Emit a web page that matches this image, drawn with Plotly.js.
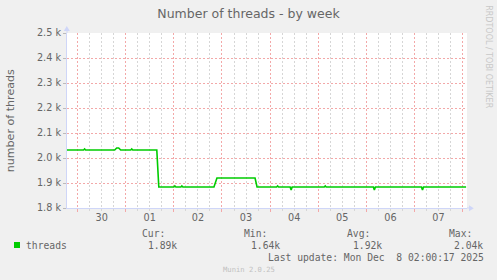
<!DOCTYPE html>
<html><head><meta charset="utf-8">
<script src="https://cdn.plot.ly/plotly-3.0.1.min.js"></script>
<style>html,body{margin:0;padding:0;background:#f0f0f0;}#chart{width:497px;height:280px;}</style>
</head><body><div id="chart"></div>
<script>
// ---- data ----
const times = [
  '2025-11-29 18:00','2025-11-30 03:00','2025-11-30 03:30','2025-11-30 04:00',
  '2025-11-30 18:30','2025-11-30 19:30','2025-11-30 20:30','2025-11-30 21:30',
  '2025-12-01 02:30','2025-12-01 03:00','2025-12-01 03:30','2025-12-01 15:30',
  '2025-12-01 16:30','2025-12-02 00:00','2025-12-02 00:30','2025-12-02 01:00',
  '2025-12-02 03:30','2025-12-02 04:00','2025-12-02 04:30','2025-12-02 20:00',
  '2025-12-02 21:30','2025-12-03 16:30','2025-12-03 17:30','2025-12-04 03:15',
  '2025-12-04 03:45','2025-12-04 04:15','2025-12-04 10:00','2025-12-04 10:30',
  '2025-12-04 11:00','2025-12-05 03:00','2025-12-05 03:30','2025-12-05 04:00',
  '2025-12-06 03:30','2025-12-06 04:00','2025-12-06 04:30','2025-12-07 03:30',
  '2025-12-07 04:00','2025-12-07 04:30','2025-12-08 01:45'
];
const threads = [
  2032,2032,2036,2032,
  2032,2040,2040,2032,
  2032,2036,2032,2032,
  1884,1884,1888,1884,
  1884,1888,1884,1884,
  1920,1920,1884,1884,
  1888,1884,1884,1872,
  1884,1884,1888,1884,
  1884,1872,1884,1884,
  1872,1884,1884
];
const xRange = ['2025-11-29 18:43','2025-12-08 02:12'];
const yTickVals = [1800,1900,2000,2100,2200,2300,2400,2500];
const yTickText = ['1.8 k','1.9 k','2.0 k','2.1 k','2.2 k','2.3 k','2.4 k','2.5 k'];
const seriesName = 'threads';
const statLabels = ['Cur:','Min:','Avg:','Max:'];
const statValues = ['1.89k','1.64k','1.92k','2.04k'];
const lastUpdate = 'Last update: Mon Dec  8 02:00:17 2025';
const chartTitle = 'Number of threads - by week';
const yTitle = 'number of threads';
const watermarkSide = 'RRDTOOL / TOBI OETIKER';
const watermarkBottom = 'Munin 2.0.25';

// ---- layout helpers ----
const L = 67, T = 33, W = 400, H = 175;
const px = x => (x - L) / W;
const py = y => (T + H - y) / H;
const nb = s => s.replace(/ /g, '\u00a0');
const FONT = '#666666';
const AXIS = '#CFD6F8';
const MGRID = '#F3A8A8';
const GRID = '#D6D6D6';
const SANS = 'DejaVu Sans';
const MONO = 'DejaVu Sans Mono';

function label(text, x, y, opts) {
  return Object.assign({
    text: nb(text), xref: 'paper', yref: 'paper', x: px(x), y: py(y),
    xanchor: 'right', yanchor: 'middle', showarrow: false,
    borderpad: 0, borderwidth: 0,
    font: {family: MONO, size: 9.7, color: FONT}
  }, opts || {});
}

const statRight = [164.5, 267.3, 369.6, 471.6];
const valRight = [177.3, 280, 381.6, 483.3];
const annotations = [];
statLabels.forEach((s, i) => annotations.push(label(s, statRight[i], 233.7)));
statValues.forEach((s, i) => annotations.push(label(s, valRight[i], 245.7)));
annotations.push(label(seriesName, 26, 245.7, {xanchor: 'left'}));
annotations.push(label(lastUpdate, 484, 257.7));
annotations.push(label(watermarkBottom, 249, 269, {xanchor: 'center',
  font: {family: MONO, size: 7.2, color: '#c0c0c0'}}));
annotations.push(label(yTitle, 10.8, 120.5, {xanchor: 'center', textangle: -90,
  font: {family: SANS, size: 11.1, color: FONT}}));
annotations.push(label(watermarkSide, 488.3, 56.5, {xanchor: 'center', textangle: 90,
  font: {family: SANS, size: 8, color: '#c8c8c8'}}));

const shapes = [
  {type: 'rect', xref: 'paper', yref: 'paper', x0: px(14), x1: px(20), y0: py(248), y1: py(242),
   fillcolor: '#00CC00', line: {width: 0}},
  {type: 'line', xref: 'paper', yref: 'paper', x0: px(467), x1: px(469.5), y0: 0, y1: 0,
   line: {color: AXIS, width: 1}},
  {type: 'path', xref: 'paper', yref: 'paper',
   path: `M ${px(469)} ${py(205.3)} L ${px(473.8)} ${py(208.3)} L ${px(469)} ${py(211.3)} Z`,
   fillcolor: AXIS, line: {width: 0}},
  {type: 'line', xref: 'paper', yref: 'paper', x0: 0, x1: 0, y0: 1, y1: py(30.5),
   line: {color: AXIS, width: 1}},
  {type: 'path', xref: 'paper', yref: 'paper',
   path: `M ${px(63.8)} ${py(31)} L ${px(66.8)} ${py(26)} L ${px(69.8)} ${py(31)} Z`,
   fillcolor: AXIS, line: {width: 0}}
];

const trace = {
  type: 'scatter', mode: 'lines', x: times, y: threads, name: seriesName,
  line: {color: '#00CC00', width: 1.6}, hoverinfo: 'skip', showlegend: false
};

const layout = {
  width: 497, height: 280,
  paper_bgcolor: '#f0f0f0', plot_bgcolor: '#ffffff',
  margin: {l: L, r: 497 - L - W, t: T, b: 280 - T - H, pad: 0, autoexpand: false},
  showlegend: false,
  title: {text: chartTitle, font: {family: SANS, size: 12.5, color: FONT},
          x: 0.5, xref: 'container', xanchor: 'center', y: 1 - 13.5 / 280, yref: 'container', yanchor: 'middle'},
  xaxis: {
    type: 'date', range: xRange, tick0: '2025-11-30', dtick: 86400000,
    ticklabelmode: 'period', tickformat: '%d', ticklabelstandoff: -3,
    tickfont: {family: SANS, size: 9.7, color: FONT},
    showgrid: true, gridcolor: MGRID, griddash: '2px,2px', gridwidth: 1,
    ticks: 'outside', ticklen: 3, tickcolor: MGRID, tickwidth: 1,
    showline: true, linecolor: AXIS, linewidth: 1, zeroline: false,
    minor: {tick0: '2025-11-30', dtick: 21600000, showgrid: true, gridcolor: GRID,
            griddash: '2px,2px', gridwidth: 1, ticks: 'outside', ticklen: 2, tickcolor: GRID},
    fixedrange: true
  },
  yaxis: {
    range: [1800, 2500], tickmode: 'array', tickvals: yTickVals, ticktext: yTickText,
    tickfont: {family: SANS, size: 9.7, color: FONT},
    showgrid: true, gridcolor: MGRID, griddash: '2px,2px', gridwidth: 1,
    ticks: 'outside', ticklen: 3, tickcolor: '#bbbbbb', tickwidth: 1,
    showline: true, linecolor: AXIS, linewidth: 1, zeroline: false, fixedrange: true
  },
  annotations: annotations,
  shapes: shapes
};

Plotly.newPlot('chart', [trace], layout, {staticPlot: true, displayModeBar: false});
</script>
</body></html>
